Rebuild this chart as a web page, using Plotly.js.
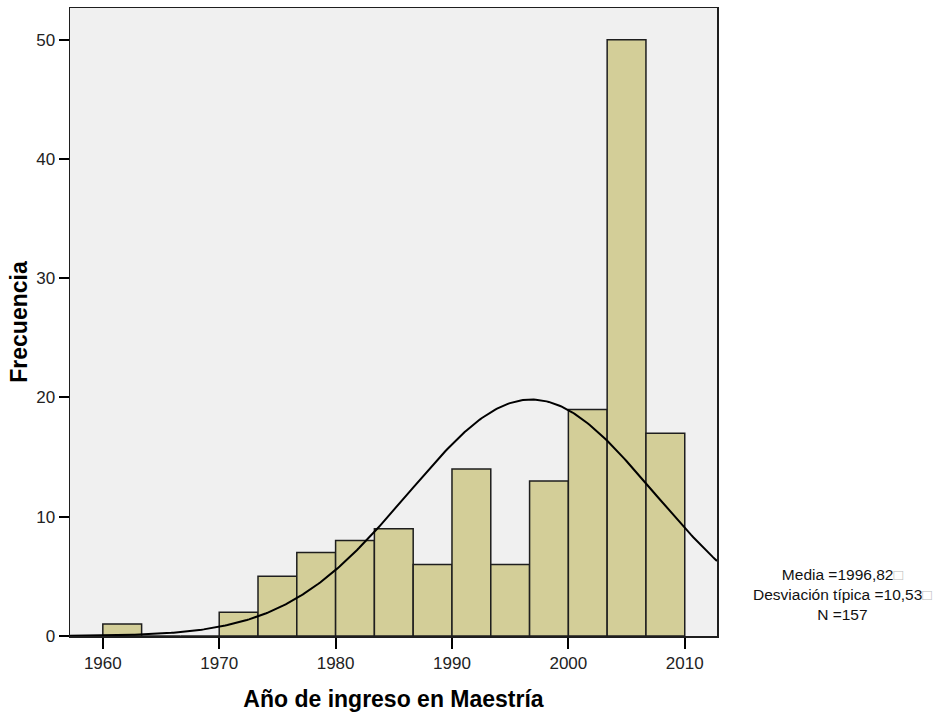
<!DOCTYPE html>
<html>
<head>
<meta charset="utf-8">
<script src="https://cdn.plot.ly/plotly-3.0.1.min.js"></script>
<style>body{margin:0;padding:0;background:#fff;} #chart{width:946px;height:712px;}</style>
</head>
<body>
<div id="chart"></div>
<script>
// Histogram bins (start year of each bin, width 10/3 years)
const binStarts = [1960, 1963.333, 1966.667, 1970, 1973.333, 1976.667, 1980, 1983.333, 1986.667, 1990, 1993.333, 1996.667, 2000, 2003.333, 2006.667];
const frequencies = [1, 0, 0, 2, 5, 7, 8, 9, 6, 14, 6, 13, 19, 50, 17];
const binWidth = 10 / 3;
const xTicks = [1960, 1970, 1980, 1990, 2000, 2010];
const yTicks = [0, 10, 20, 30, 40, 50];
// Summary statistics shown on the chart
const media = 1996.82;
const desviacion = 10.53;
const nTotal = 157;

const barX = binStarts.map(s => s + binWidth / 2);

// Normal curve defined by the chart's stated mean / sd / N
const xRange = [1957.18, 2012.77];
const curveX = [], curveY = [];
for (let i = 0; i <= 300; i++) {
  const x = xRange[0] + (xRange[1] - xRange[0]) * i / 300;
  const z = (x - media) / desviacion;
  curveX.push(x);
  curveY.push(nTotal * binWidth / (desviacion * Math.sqrt(2 * Math.PI)) * Math.exp(-0.5 * z * z));
}

const traces = [
  {
    type: 'bar', x: barX, y: frequencies, width: binWidth,
    marker: {color: '#d3ce98', line: {color: '#1e1e1e', width: 1.5}},
    hoverinfo: 'x+y', showlegend: false
  },
  {
    type: 'scatter', mode: 'lines', x: curveX, y: curveY,
    line: {color: '#000', width: 2}, showlegend: false, hoverinfo: 'skip'
  }
];

const font = {family: 'Liberation Sans, Arial, sans-serif', color: '#000'};
const layout = {
  width: 946, height: 712,
  margin: {l: 70, r: 229, t: 8, b: 76},
  paper_bgcolor: '#ffffff', plot_bgcolor: '#f0f0f0',
  font: Object.assign({size: 17}, font),
  bargap: 0,
  xaxis: {
    range: xRange, tickvals: xTicks, ticktext: xTicks.map(String),
    ticks: 'outside', ticklen: 11, tickwidth: 2, tickcolor: '#000',
    showgrid: false, zeroline: false,
    showline: true, mirror: true, linecolor: '#1e1e1e', linewidth: 1.5,
    tickfont: {size: 17, family: font.family, color: '#222'},
    title: {text: '<b>Año de ingreso en Maestría</b>', font: {size: 23, family: font.family, color: '#000'}, standoff: 19}
  },
  yaxis: {
    range: [0, 52.66], tickvals: yTicks, ticktext: yTicks.map(String),
    ticks: 'outside', ticklen: 10, tickwidth: 2, tickcolor: '#000',
    showgrid: false, zeroline: false,
    showline: true, mirror: true, linecolor: '#1e1e1e', linewidth: 1.5,
    tickfont: {size: 17, family: font.family, color: '#222'},
    title: {text: '<b>Frecuencia</b>', font: {size: 23, family: font.family, color: '#000'}, standoff: 2}
  },
  annotations: [{
    xref: 'paper', yref: 'paper', x: 1.1946, y: 0.0653,
    xanchor: 'center', yanchor: 'middle', align: 'center', showarrow: false,
    text: 'Media =' + media.toFixed(2).replace('.', ',') + '<span style="color:#bbb">□</span><br>' +
          'Desviación típica =' + desviacion.toFixed(2).replace('.', ',') + '<span style="color:#bbb">□</span><br>' +
          'N =' + nTotal,
    font: {size: 15.5, family: font.family, color: '#111'}
  }]
};

Plotly.newPlot('chart', traces, layout, {displayModeBar: false, staticPlot: true});
</script>
</body>
</html>
